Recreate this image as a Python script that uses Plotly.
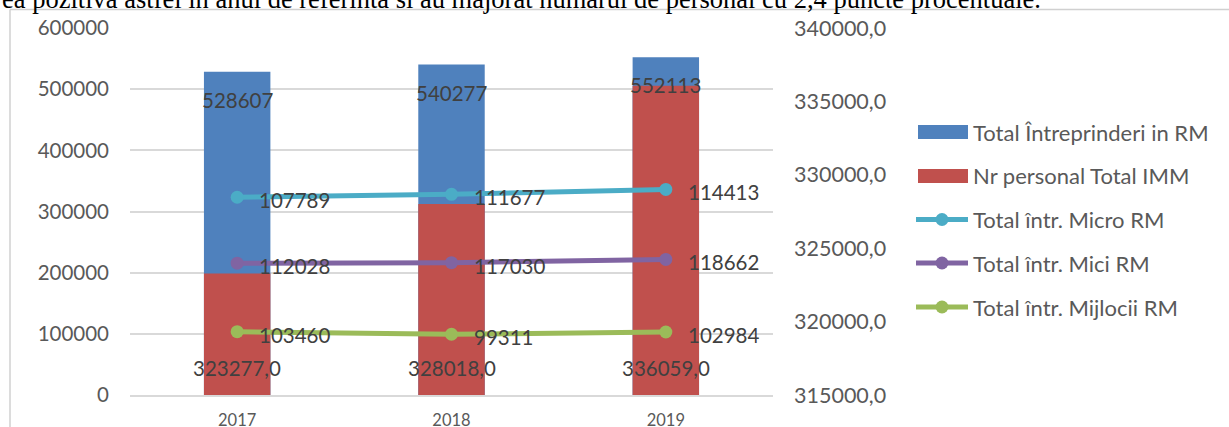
import numpy as np
import plotly.graph_objects as go

# ---- data -------------------------------------------------------------
years = ["2017", "2018", "2019"]
total_intreprinderi = [528607, 540277, 552113]      # Total Întreprinderi in RM
personal_imm = [323277.0, 328018.0, 336059.0]       # Nr personal Total IMM (right axis)
micro = [107789, 111677, 114413]                    # Total într. Micro RM
mici = [112028, 117030, 118662]                     # Total într. Mici RM
mijlocii = [103460, 99311, 102984]                  # Total într. Mijlocii RM

left_ticks = [0, 100000, 200000, 300000, 400000, 500000, 600000]
right_ticks = [315000, 320000, 325000, 330000, 335000, 340000]

series_names = ["Total Întreprinderi in RM", "Nr personal Total IMM",
                "Total într. Micro RM", "Total într. Mici RM", "Total într. Mijlocii RM"]
intro_line = ("ea pozitivă astfel în anul de referinta si au majorat numărul de "
              "personal cu 2,4 puncte procentuale.")

# ---- styling ----------------------------------------------------------
W, H = 1229, 427
ML, MR, MT, MB = 130, 456, 28, 32
PW, PH = W - ML - MR, H - MT - MB

BLUE, RED = "#4F81BD", "#C0504D"
C_MICRO, C_MICI, C_MIJ = "#4BACC6", "#8064A2", "#9BBB59"
GRID = "#D9D9D9"
TICK_C, LABEL_C = "#595959", "#404040"
FONT = "Lato"


def px_x(px):
    return (px - ML) / PW


def px_y(py):
    return (MT + PH - py) / PH


# the three line series are stacked: Mijlocii, then Mici, then Micro on top
stack = np.cumsum(np.array([mijlocii, mici, micro], dtype=float), axis=0)
line_series = [
    (series_names[4], mijlocii, stack[0], C_MIJ),
    (series_names[3], mici, stack[1], C_MICI),
    (series_names[2], micro, stack[2], C_MICRO),
]

fig = go.Figure()

fig.add_trace(go.Bar(x=years, y=total_intreprinderi, name=series_names[0],
                     marker=dict(color=BLUE, line=dict(width=0)), width=0.31,
                     yaxis="y", showlegend=False, hoverinfo="skip"))
fig.add_trace(go.Bar(x=years, y=personal_imm, name=series_names[1],
                     marker=dict(color=RED, line=dict(width=0)), width=0.31,
                     yaxis="y2", showlegend=False, hoverinfo="skip"))

for name, vals, cum, col in line_series:
    fig.add_trace(go.Scatter(x=years, y=cum, name=name, mode="lines+markers",
                             line=dict(color=col, width=5),
                             marker=dict(color=col, size=13),
                             yaxis="y3", showlegend=False, hoverinfo="skip",
                             cliponaxis=False))

annotations = []
label_font = dict(family=FONT, size=20.5, color=LABEL_C)

# value labels on the bars (x given as category index)
for i, v in enumerate(total_intreprinderi):
    annotations.append(dict(x=i, y=v, xref="x", yref="y", text=str(v),
                            showarrow=False, yshift=-28, font=label_font))
for i, v in enumerate(personal_imm):
    annotations.append(dict(x=i, y=right_ticks[0], xref="x", yref="y2",
                            text=f"{v:.1f}".replace(".", ","),
                            showarrow=False, yshift=27, font=label_font))

# value labels to the right of the line points
for name, vals, cum, col in line_series:
    for i, (v, c) in enumerate(zip(vals, cum)):
        annotations.append(dict(x=i, y=c, xref="x", yref="y", text=str(v),
                                showarrow=False, xanchor="left", xshift=20,
                                yshift=-3, font=label_font))

# legend
shapes = []
legend_rows = [132, 176, 219.5, 263, 307]
legend_colors = [BLUE, RED, C_MICRO, C_MICI, C_MIJ]
for i, (name, cy, col) in enumerate(zip(series_names, legend_rows, legend_colors)):
    if i < 2:
        shapes.append(dict(type="rect", xref="paper", yref="paper",
                           x0=px_x(918), x1=px_x(968), y0=px_y(cy + 7), y1=px_y(cy - 7),
                           fillcolor=col, line=dict(width=0), layer="above"))
    else:
        shapes.append(dict(type="line", xref="paper", yref="paper",
                           x0=px_x(916), x1=px_x(968), y0=px_y(cy), y1=px_y(cy),
                           line=dict(color=col, width=5), layer="above"))
        shapes.append(dict(type="circle", xref="paper", yref="paper",
                           xsizemode="pixel", ysizemode="pixel",
                           xanchor=px_x(942), yanchor=px_y(cy),
                           x0=-6.5, x1=6.5, y0=-6.5, y1=6.5,
                           fillcolor=col, line=dict(width=0), layer="above"))
    annotations.append(dict(x=px_x(971), y=px_y(cy), xref="paper", yref="paper",
                            xanchor="left", yanchor="middle", text=name, showarrow=False,
                            font=dict(family=FONT, size=22, color=TICK_C)))

# chart frame
shapes.append(dict(type="line", xref="paper", yref="paper",
                   x0=px_x(10), x1=px_x(W + 5), y0=px_y(9.5), y1=px_y(9.5),
                   line=dict(color="#D0D0D0", width=1.5)))
shapes.append(dict(type="line", xref="paper", yref="paper",
                   x0=px_x(10), x1=px_x(10), y0=px_y(9.5), y1=px_y(H + 5),
                   line=dict(color="#D0D0D0", width=1.5)))

# running text of the page above the chart (its upper part falls off the page)
annotations.append(dict(x=px_x(0), y=px_y(16), xref="paper", yref="paper",
                        xanchor="left", yanchor="bottom", text=intro_line,
                        showarrow=False,
                        font=dict(family="Liberation Serif", size=26.5, color="#000000")))

fig.update_layout(
    width=W, height=H,
    margin=dict(l=ML, r=MR, t=MT, b=MB, pad=0, autoexpand=False),
    paper_bgcolor="white", plot_bgcolor="white",
    barmode="overlay", separators=", ",
    showlegend=False,
    xaxis=dict(type="category", range=[-0.5, 2.5], showgrid=False, automargin=False,
               showline=True, linecolor=GRID, linewidth=1.5, ticks="",
               tickfont=dict(family=FONT, size=16.5, color=TICK_C),
               ticklabelstandoff=9),
    yaxis=dict(range=[0, 600000], tickvals=left_ticks, tickformat="d", automargin=False,
               showgrid=True, gridcolor=GRID, gridwidth=1.5, zeroline=False,
               showline=False, ticks="",
               tickfont=dict(family=FONT, size=20.5, color=TICK_C),
               ticklabelstandoff=20),
    yaxis2=dict(range=[right_ticks[0], right_ticks[-1]], tickvals=right_ticks,
                tickformat=".1f", overlaying="y", side="right", automargin=False,
                showgrid=False, zeroline=False, showline=False, ticks="",
                tickfont=dict(family=FONT, size=21.5, color=TICK_C),
                ticklabelstandoff=20),
    yaxis3=dict(range=[0, 600000], overlaying="y", visible=False, automargin=False),
    shapes=shapes,
    annotations=annotations,
)

fig.write_html("out.html")
